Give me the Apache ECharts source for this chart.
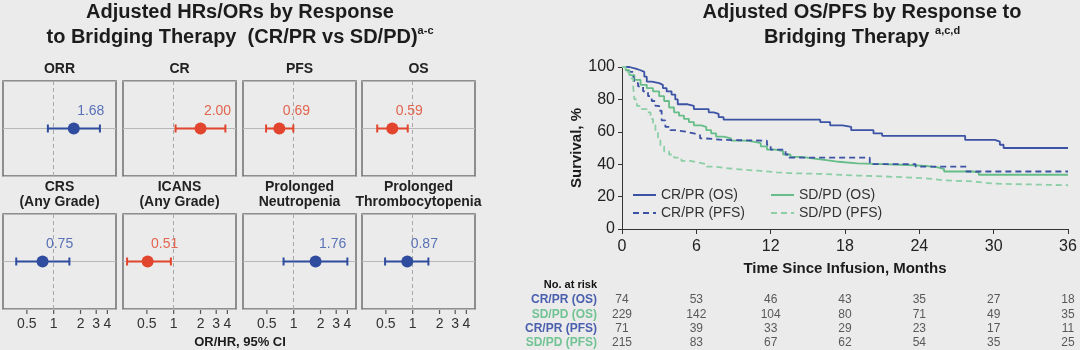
<!DOCTYPE html>
<html>
<head>
<meta charset="utf-8">
<script src="https://cdn.jsdelivr.net/npm/echarts@6/dist/echarts.min.js"></script>
<style>
html, body { margin: 0; padding: 0; background: #ebebeb; }
#chart { width: 1080px; height: 350px; }
</style>
</head>
<body>
<div id="chart"></div>
<script>
// forest panels (OR / HR with 95% CI)
const panelNames = ['ORR', 'CR', 'PFS', 'OS', 'CRS\n(Any Grade)', 'ICANS\n(Any Grade)', 'Prolonged\nNeutropenia', 'Prolonged\nThrombocytopenia']
const estimates = [1.68, 2.00, 0.69, 0.59, 0.75, 0.51, 1.76, 0.87]
const ciLow = [0.86, 1.05, 0.49, 0.40, 0.38, 0.30, 0.77, 0.49]
const ciHigh = [3.3, 3.8, 0.99, 0.88, 1.5, 0.93, 4.0, 1.5]
const orTicks = [0.5, 1, 2, 3, 4]

// KM curves, [month, survival %]
const crprOS = [[0, 100], [0.6, 99], [1.1, 98], [1.5, 97], [1.8, 94], [2.0, 91], [2.4, 90], [3.0, 89], [3.3, 87], [3.6, 85], [4.0, 83], [4.3, 80], [4.5, 77], [5.3, 76], [5.8, 74], [7.0, 72], [7.4, 71], [7.8, 69], [8.2, 67.5], [16.0, 66], [16.8, 64], [17.8, 63], [18.5, 61], [20.3, 59], [21.0, 57.5], [27.7, 55], [30.1, 54], [30.5, 52], [30.8, 50], [36, 50]]
const sdpdOS = [[0, 100], [0.3, 98], [0.6, 95], [1.0, 92], [1.5, 89], [2.0, 87], [2.5, 85], [3.0, 82], [3.4, 79], [3.8, 75], [4.2, 72], [4.6, 70], [5.0, 68], [5.4, 66], [5.8, 64], [6.4, 63], [6.8, 61], [7.2, 59], [7.6, 57], [8.2, 56], [8.8, 54.5], [10.0, 54], [10.6, 53], [11.2, 51], [11.7, 49], [12.4, 48], [13.0, 46], [13.6, 44.5], [14.5, 43.5], [15.5, 42.5], [16.5, 41.5], [17.5, 40.5], [19.0, 40], [21.0, 39.5], [23.0, 39], [24.5, 38], [25.5, 37], [26.0, 35.5], [28.3, 35], [28.8, 33.5], [36, 33.5]]
const crprPFS = [[0, 100], [0.5, 97], [0.9, 95], [1.0, 90], [1.3, 88], [1.7, 85], [2.1, 82], [2.4, 79], [2.7, 76], [3.0, 73], [3.2, 67], [3.5, 63], [3.9, 61], [4.3, 60], [5.2, 59], [5.8, 58], [6.3, 56], [6.6, 55], [8.2, 54.5], [11.7, 52], [12.0, 49], [13.2, 46], [13.5, 44], [20.0, 40], [23.7, 38.5], [27.8, 35.5], [36, 35.5]]
const sdpdPFS = [[0, 100], [0.3, 97], [0.6, 93], [0.9, 88], [1.0, 80], [1.2, 76], [1.6, 74], [2.0, 72], [2.3, 68], [2.5, 64], [2.7, 60], [2.9, 55], [3.1, 51], [3.4, 48], [3.8, 46], [4.2, 44], [4.8, 42], [5.5, 41], [6.2, 40], [6.8, 38.5], [7.5, 37.5], [8.5, 36.5], [10.0, 36], [11.0, 35], [12.5, 34.5], [13.5, 34], [16.0, 33], [19.0, 32.5], [21.0, 31.5], [24.0, 31], [25.0, 30], [26.0, 29.5], [28.0, 29], [28.8, 28], [30.0, 27], [36, 27]]

// number at risk
const riskMonths = [0, 6, 12, 18, 24, 30, 36]
const riskGroups = ['CR/PR (OS)', 'SD/PD (OS)', 'CR/PR (PFS)', 'SD/PD (PFS)']
const riskCrprOS = [74, 53, 46, 43, 35, 27, 18]
const riskSdpdOS = [229, 142, 104, 80, 71, 49, 35]
const riskCrprPFS = [71, 39, 33, 29, 23, 17, 11]
const riskSdpdPFS = [215, 83, 67, 62, 54, 35, 25]

const BLUE = '#2f4c9e'
const BLUE_TXT = '#5a72b6'
const RED = '#e2452d'
const RED_TXT = '#e2654f'
const KM_BLUE = '#3c52a4'
const KM_GREEN = '#66bd88'
const KM_GREEN_L = '#8ccfa6'
const FONT = 'Liberation Sans, Arial, sans-serif'

const chart = echarts.init(document.getElementById('chart'))

const grids = [], xAxes = [], yAxes = [], series = []
const supStyle = { fontSize: 11, fontWeight: 'bold', verticalAlign: 'top', lineHeight: 16, color: '#1c1c1c' }
const titles = [
  {
    text: 'Adjusted HRs/ORs by Response\nto Bridging Therapy  (CR/PR vs SD/PD){sup|a-c}',
    left: 240, top: 0, textAlign: 'center', padding: 0,
    textStyle: { fontFamily: FONT, fontSize: 20, fontWeight: 'bold', lineHeight: 25, color: '#1c1c1c', rich: { sup: supStyle } }
  },
  {
    text: 'Adjusted OS/PFS by Response to\nBridging Therapy {sup|a,c,d}',
    left: 862, top: 0, textAlign: 'center', padding: 0,
    textStyle: { fontFamily: FONT, fontSize: 20, fontWeight: 'bold', lineHeight: 25, color: '#1c1c1c', rich: { sup: supStyle } }
  },
  {
    text: 'OR/HR, 95% CI', left: 240, top: 336, textAlign: 'center', padding: 0,
    textStyle: { fontFamily: FONT, fontSize: 13, fontWeight: 'bold', color: '#1c1c1c' }
  },
  {
    text: 'No. at risk', right: 483, top: 279, padding: 0,
    textStyle: { fontFamily: FONT, fontSize: 11, fontWeight: 'bold', color: '#111' }
  }
]

const colLeft = [3, 123, 243, 362]
const rowTop = [81, 214]

panelNames.forEach((name, i) => {
  const r = Math.floor(i / 4)
  const c = i % 4
  const sig = ciLow[i] > 1 || ciHigh[i] < 1
  const col = sig ? RED : BLUE
  const txtCol = sig ? RED_TXT : BLUE_TXT
  grids.push({ left: colLeft[c], top: rowTop[r], width: 113, height: 95, show: true,
    borderColor: '#707070', borderWidth: 1.5, backgroundColor: 'transparent' })
  xAxes.push({
    type: 'log', gridIndex: i, min: 0.27, max: 5,
    axisLine: { show: false, onZero: false },
    splitLine: { show: false },
    axisTick: { show: false },
    axisLabel: { show: r === 1, customValues: orTicks, fontFamily: FONT, fontSize: 14, color: '#333', margin: 8 }
  })
  yAxes.push({
    type: 'value', gridIndex: i, min: -1, max: 1, interval: 1,
    axisLine: { show: false }, axisTick: { show: false }, axisLabel: { show: false },
    splitLine: { lineStyle: { color: '#b8b8b8', width: 1 } }
  })
  series.push({
    type: 'custom', xAxisIndex: i, yAxisIndex: i, clip: false, z: 5,
    data: [[estimates[i], ciLow[i], ciHigh[i], 0]],
    encode: { x: [0, 1, 2], y: 3 },
    renderItem: (params, api) => {
      const p = api.coord([api.value(0), 0])
      const lo = api.coord([api.value(1), 0])
      const hi = api.coord([api.value(2), 0])
      const bottom = api.coord([1, -1])[1]
      const st = { stroke: col, lineWidth: 2 }
      const children = [
        { type: 'line', shape: { x1: lo[0], y1: lo[1], x2: hi[0], y2: hi[1] }, style: st },
        { type: 'line', shape: { x1: lo[0], y1: lo[1] - 4, x2: lo[0], y2: lo[1] + 4 }, style: st },
        { type: 'line', shape: { x1: hi[0], y1: hi[1] - 4, x2: hi[0], y2: hi[1] + 4 }, style: st },
        { type: 'circle', shape: { cx: p[0], cy: p[1], r: 6 }, style: { fill: col } },
        { type: 'text', x: p[0] + 17, y: p[1] - 17,
          style: { text: api.value(0).toFixed(2), fill: txtCol, font: '14px ' + FONT, align: 'center', verticalAlign: 'middle' } }
      ]
      if (r === 1) {
        // outward tick marks under the bottom row, at the OR/HR tick values
        orTicks.forEach(v => {
          const tx = api.coord([v, 0])[0]
          children.push({ type: 'rect', shape: { x: tx - 0.6, y: bottom + 1, width: 1.2, height: 4 },
            style: { fill: '#555' } })
        })
      }
      return { type: 'group', children }
    },
    markLine: {
      silent: true, symbol: 'none', label: { show: false },
      lineStyle: { color: '#a8a8a8', type: [4, 3], width: 1 },
      data: [{ xAxis: 1 }]
    }
  })
  titles.push({
    text: name, left: colLeft[c] + 56.5, top: r ? 180 : 62, textAlign: 'center', padding: 0,
    textStyle: { fontFamily: FONT, fontSize: 14, fontWeight: 'bold', lineHeight: 15, color: '#222' }
  })
})

// KM grid
const kmIdx = grids.length
grids.push({ left: 622, right: 12, top: 67, bottom: 121 })
xAxes.push({
  type: 'value', gridIndex: kmIdx, min: 0, max: 36, interval: 6,
  name: 'Time Since Infusion, Months', nameLocation: 'middle', nameGap: 32,
  nameTextStyle: { fontFamily: FONT, fontSize: 15, fontWeight: 'bold', color: '#1c1c1c' },
  axisLine: { lineStyle: { color: '#333', width: 1 } },
  axisTick: { length: 5, lineStyle: { color: '#333' } },
  axisLabel: { fontFamily: FONT, fontSize: 16, color: '#222', margin: 10 },
  splitLine: { show: false }
})
yAxes.push({
  type: 'value', gridIndex: kmIdx, min: 0, max: 100, interval: 20,
  name: 'Survival, %', nameLocation: 'middle', nameGap: 19, nameRotate: 90,
  nameTextStyle: { fontFamily: FONT, fontSize: 15, fontWeight: 'bold', color: '#1c1c1c' },
  axisLine: { show: true, lineStyle: { color: '#333', width: 1 } },
  axisTick: { show: true, length: 4, lineStyle: { color: '#333' } },
  axisLabel: { fontFamily: FONT, fontSize: 16, color: '#222', margin: 7 },
  splitLine: { show: false }
})
const kmSeries = [
  { name: 'CR/PR (OS)', data: crprOS, color: KM_BLUE, dash: 'solid' },
  { name: 'SD/PD (OS)', data: sdpdOS, color: KM_GREEN, dash: 'solid' },
  { name: 'CR/PR (PFS)', data: crprPFS, color: KM_BLUE, dash: [6, 4] },
  { name: 'SD/PD (PFS)', data: sdpdPFS, color: KM_GREEN_L, dash: [6, 4] }
]
kmSeries.forEach(s => {
  series.push({
    type: 'line', name: s.name, xAxisIndex: kmIdx, yAxisIndex: kmIdx,
    step: 'end', symbol: 'none', data: s.data, color: s.color,
    lineStyle: { color: s.color, width: 1.8, type: s.dash }
  })
})

// number at risk table
const riskIdx = grids.length
const riskRows = [riskCrprOS, riskSdpdOS, riskCrprPFS, riskSdpdPFS]
const riskColors = ['#4a5fae', '#72c393', '#4a5fae', '#72c393']
grids.push({ left: 622, right: 12, top: 293, height: 58 })
xAxes.push({ type: 'value', gridIndex: riskIdx, min: 0, max: 36, show: false })
yAxes.push({
  type: 'category', gridIndex: riskIdx, data: riskGroups, inverse: true,
  axisLine: { show: false }, axisTick: { show: false }, splitLine: { show: false },
  axisLabel: {
    margin: 25, interval: 0,
    formatter: (v, idx) => '{c' + idx + '|' + v + '}',
    rich: Object.fromEntries(riskColors.map((c, k) => ['c' + k, { color: c, fontFamily: 'Liberation Sans Narrow, Arial Narrow, ' + FONT, fontSize: 12, fontWeight: 'bold' }]))
  }
})
const riskData = []
riskRows.forEach((row, r) => row.forEach((n, k) => riskData.push([riskMonths[k], r, n])))
series.push({
  type: 'scatter', xAxisIndex: riskIdx, yAxisIndex: riskIdx, symbolSize: 0, data: riskData,
  label: { show: true, position: 'inside', formatter: p => p.value[2], fontFamily: FONT, fontSize: 12, color: '#333' }
})

const legendBase = {
  orient: 'vertical', itemWidth: 23, itemHeight: 14, itemGap: 4, padding: 0,
  itemStyle: { color: 'rgba(0,0,0,0)', borderWidth: 0 },
  textStyle: { fontFamily: FONT, fontSize: 14, color: '#333' }
}

chart.setOption({
  backgroundColor: '#ebebeb',
  animation: false,
  title: titles,
  legend: [
    Object.assign({}, legendBase, { left: 632, top: 188, data: ['CR/PR (OS)', 'CR/PR (PFS)'] }),
    Object.assign({}, legendBase, { left: 770, top: 188, data: ['SD/PD (OS)', 'SD/PD (PFS)'] })
  ],
  grid: grids,
  xAxis: xAxes,
  yAxis: yAxes,
  series: series
})
</script>
</body>
</html>
